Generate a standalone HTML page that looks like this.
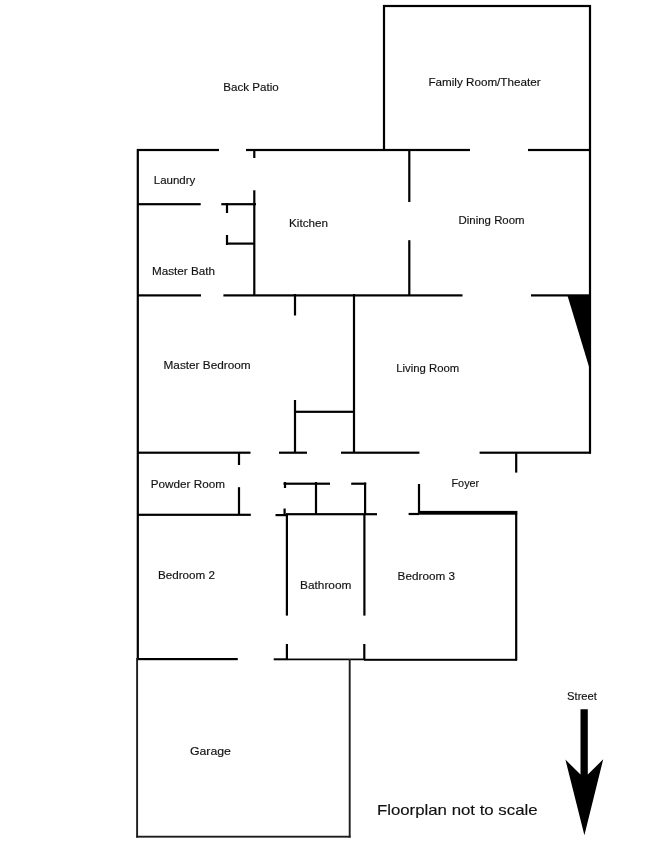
<!DOCTYPE html>
<html><head><meta charset="utf-8"><style>
html,body{margin:0;padding:0;background:#fff;}
body{width:650px;height:842px;overflow:hidden;position:relative;}
svg{position:absolute;left:0;top:0;display:block;will-change:transform;}
text{font-family:"Liberation Sans",sans-serif;fill:#111;stroke:#111;stroke-width:0.15px;}
</style></head><body>
<svg width="650" height="842" viewBox="0 0 650 842">
<g fill="#000">
<rect x="383" y="4.90" width="208.00" height="2.2"/>
<rect x="137" y="148.90" width="82.00" height="2.2"/>
<rect x="246" y="148.90" width="224.00" height="2.2"/>
<rect x="528" y="148.90" width="63.00" height="2.2"/>
<rect x="137" y="203.10" width="63.70" height="2.2"/>
<rect x="221.3" y="203.10" width="34.70" height="2.2"/>
<rect x="226.2" y="242.50" width="28.80" height="2.2"/>
<rect x="137" y="294.30" width="64.00" height="2.2"/>
<rect x="223.4" y="294.30" width="239.10" height="2.2"/>
<rect x="531" y="294.30" width="60.00" height="2.2"/>
<rect x="294" y="410.70" width="61.00" height="2.2"/>
<rect x="137" y="451.60" width="113.50" height="2.2"/>
<rect x="279" y="451.60" width="28.00" height="2.2"/>
<rect x="341" y="451.60" width="78.40" height="2.2"/>
<rect x="479.6" y="451.60" width="111.40" height="2.2"/>
<rect x="137" y="513.70" width="113.80" height="2.2"/>
<rect x="283.5" y="482.60" width="46.50" height="2.2"/>
<rect x="351.2" y="482.60" width="15.00" height="2.2"/>
<rect x="275.5" y="514.00" width="11.50" height="2.2"/>
<rect x="286" y="513.10" width="91.00" height="2.2"/>
<rect x="408.6" y="512.90" width="10.40" height="2.2"/>
<rect x="137" y="658.00" width="100.80" height="2.2"/>
<rect x="273.7" y="658.30" width="14.30" height="2.0"/>
<rect x="288" y="658.55" width="76.00" height="1.7"/>
<rect x="364" y="658.80" width="153.00" height="2.0"/>
<rect x="136.2" y="835.75" width="214.30" height="1.9" fill="#1e1e1e"/>
<rect x="382.90" y="5" width="2.2" height="146.00"/>
<rect x="588.90" y="5" width="2.2" height="448.50"/>
<rect x="136.70" y="149" width="2.2" height="511.00"/>
<rect x="136.15" y="658" width="1.9" height="179.60" fill="#1e1e1e"/>
<rect x="253.20" y="149" width="2.2" height="9.00"/>
<rect x="253.20" y="190.3" width="2.2" height="105.70"/>
<rect x="225.90" y="203" width="2.2" height="10.00"/>
<rect x="225.90" y="235" width="2.2" height="10.00"/>
<rect x="408.20" y="149" width="2.2" height="53.00"/>
<rect x="408.20" y="240.2" width="2.2" height="55.80"/>
<rect x="293.90" y="294" width="2.2" height="21.50"/>
<rect x="352.90" y="294" width="2.2" height="159.00"/>
<rect x="293.90" y="400" width="2.2" height="53.00"/>
<rect x="237.90" y="452" width="2.2" height="13.00"/>
<rect x="515.10" y="452" width="2.2" height="20.60"/>
<rect x="237.90" y="487.2" width="2.2" height="27.80"/>
<rect x="283.90" y="482" width="2.2" height="6.00"/>
<rect x="314.90" y="482" width="2.2" height="33.00"/>
<rect x="364.00" y="482.6" width="2.2" height="32.40"/>
<rect x="363.30" y="514" width="2.2" height="101.60"/>
<rect x="363.20" y="644" width="2.2" height="16.00"/>
<rect x="283.50" y="508.5" width="2.2" height="6.50"/>
<rect x="417.90" y="484" width="2.2" height="29.00"/>
<rect x="285.80" y="514" width="2.2" height="101.60"/>
<rect x="285.80" y="644" width="2.2" height="16.00"/>
<rect x="515.10" y="511" width="2.2" height="149.50"/>
<rect x="348.75" y="659" width="1.9" height="178.60" fill="#1e1e1e"/>
<rect x="418.5" y="510.9" width="98.7" height="3.8"/>
<polygon points="567.3,295 590.6,295 590.6,372"/>
<polygon points="580.5,709.2 587.8,709.2 587.8,774.6 603.2,759.3 584.4,835.2 565.4,759.6 580.5,774.6"/>
</g>
<g>
<text x="223.2" y="90.9" font-size="11" textLength="55.5" lengthAdjust="spacingAndGlyphs">Back Patio</text>
<text x="428.4" y="85.6" font-size="11" textLength="112.2" lengthAdjust="spacingAndGlyphs">Family Room/Theater</text>
<text x="153.8" y="183.9" font-size="11" textLength="41.5" lengthAdjust="spacingAndGlyphs">Laundry</text>
<text x="289" y="226.6" font-size="11" textLength="39" lengthAdjust="spacingAndGlyphs">Kitchen</text>
<text x="458.6" y="223.9" font-size="11" textLength="66" lengthAdjust="spacingAndGlyphs">Dining Room</text>
<text x="152" y="274.8" font-size="11" textLength="63" lengthAdjust="spacingAndGlyphs">Master Bath</text>
<text x="163.5" y="368.5" font-size="11" textLength="87.2" lengthAdjust="spacingAndGlyphs">Master Bedroom</text>
<text x="396.2" y="371.5" font-size="11" textLength="63" lengthAdjust="spacingAndGlyphs">Living Room</text>
<text x="150.8" y="487.7" font-size="11" textLength="74.2" lengthAdjust="spacingAndGlyphs">Powder Room</text>
<text x="451.5" y="486.6" font-size="11" textLength="27.7" lengthAdjust="spacingAndGlyphs">Foyer</text>
<text x="158" y="578.5" font-size="11" textLength="57" lengthAdjust="spacingAndGlyphs">Bedroom 2</text>
<text x="300" y="588.8" font-size="11" textLength="51.4" lengthAdjust="spacingAndGlyphs">Bathroom</text>
<text x="397.6" y="579.5" font-size="11" textLength="57.4" lengthAdjust="spacingAndGlyphs">Bedroom 3</text>
<text x="189.9" y="754.8" font-size="11" textLength="41.1" lengthAdjust="spacingAndGlyphs">Garage</text>
<text x="567.1" y="699.9" font-size="10" textLength="29.8" lengthAdjust="spacingAndGlyphs">Street</text>
<text x="376.9" y="814.9" font-size="14.5" textLength="160.7" lengthAdjust="spacingAndGlyphs">Floorplan not to scale</text>
</g>
</svg>
</body></html>
